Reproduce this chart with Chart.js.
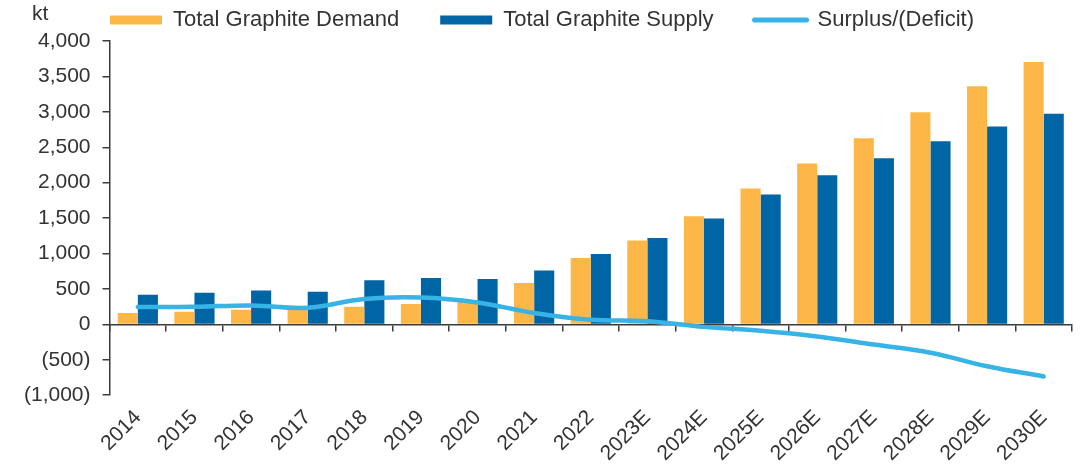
<!DOCTYPE html>
<html>
<head>
<meta charset="utf-8">
<script src="https://cdn.jsdelivr.net/npm/chart.js@4/dist/chart.umd.min.js"></script>
<style>
  body { margin: 0; background: #fff; }
</style>
</head>
<body>
<canvas id="graphiteChart" width="1084" height="466"></canvas>
<script>
// dữ liệu (kt)
const years = ["2014", "2015", "2016", "2017", "2018", "2019", "2020", "2021", "2022",
  "2023E", "2024E", "2025E", "2026E", "2027E", "2028E", "2029E", "2030E"];
const demand = [160, 180, 205, 210, 250, 287, 320, 584, 937, 1183, 1526, 1917, 2271, 2628, 2996, 3363, 3702];
const supply = [420, 445, 480, 460, 622, 654, 640, 759, 993, 1219, 1494, 1833, 2105, 2346, 2586, 2794, 2972];
const surplus = [245, 248, 268, 235, 360, 380, 310, 160, 65, 45, -35, -90, -170, -285, -400, -590, -735];
const yTicks = { min: -1000, max: 4000, step: 500 };

const textColor = "#333333";
const axisColor = "#3a3a3a";
const fontFamily = "'Liberation Sans', Arial, sans-serif";
const font = { family: fontFamily, size: 21 };
const legendFont = { family: fontFamily, size: 22 };

// số âm hiển thị trong ngoặc
const formatNum = (v) => {
  const s = Math.abs(v).toLocaleString("en-US");
  return v < 0 ? "(" + s + ")" : s;
};

// vẽ chữ "kt" phía trên trục y
const unitLabel = {
  id: "unitLabel",
  afterDraw(chart) {
    const ctx = chart.ctx;
    ctx.save();
    ctx.font = `${font.size}px ${font.family}`;
    ctx.fillStyle = textColor;
    ctx.textBaseline = "middle";
    ctx.fillText("kt", 32, 14);
    ctx.restore();
  },
};

const ctx = document.getElementById("graphiteChart").getContext("2d");
window.graphiteChart = new Chart(ctx, {
  type: "bar",
  data: {
    labels: years,
    datasets: [
      {
        label: "Total Graphite Demand",
        data: demand,
        backgroundColor: "#FDB748",
        categoryPercentage: 0.71,
        barPercentage: 1.0,
        order: 1,
      },
      {
        label: "Total Graphite Supply",
        data: supply,
        backgroundColor: "#0065A5",
        categoryPercentage: 0.71,
        barPercentage: 1.0,
        order: 1,
      },
      {
        type: "line",
        label: "Surplus/(Deficit)",
        data: surplus,
        borderColor: "#38B3E6",
        backgroundColor: "#38B3E6",
        borderWidth: 4.5,
        tension: 0.4,
        pointRadius: 0,
        borderCapStyle: "round",
        order: 0,
      },
    ],
  },
  options: {
    responsive: false,
    devicePixelRatio: 1,
    animation: false,
    // legend padding lớn để giãn ngang, bù lại bằng padding âm
    layout: { padding: { left: 12, right: 12, top: -32, bottom: -2 } },
    plugins: {
      tooltip: { enabled: false },
      legend: {
        position: "top",
        labels: {
          color: textColor,
          font: legendFont,
          usePointStyle: true,
          pointStyleWidth: 52,
          boxHeight: 9,
          padding: 41,
          generateLabels: (chart) =>
            chart.data.datasets.map((ds, i) => ({
              text: ds.label,
              fillStyle: ds.backgroundColor,
              strokeStyle: ds.borderColor || ds.backgroundColor,
              lineWidth: ds.type === "line" ? 5 : 0,
              lineCap: "round",
              pointStyle: ds.type === "line" ? "line" : "rect",
              fontColor: textColor,
              datasetIndex: i,
              hidden: false,
            })),
        },
      },
    },
    scales: {
      x: {
        position: "bottom",
        grid: { display: false },
        border: { display: false },
        ticks: {
          color: textColor,
          font: font,
          minRotation: 45,
          maxRotation: 45,
          padding: 2,
        },
      },
      x2: {
        type: "category",
        labels: years,
        position: { y: 0 },
        offset: true,
        grid: {
          offset: true,
          drawOnChartArea: false,
          drawTicks: true,
          tickLength: 6,
          color: axisColor,
          lineWidth: 1.5,
        },
        border: { display: true, color: axisColor, width: 1.5 },
        ticks: { display: false },
      },
      y: {
        min: yTicks.min,
        max: yTicks.max,
        grid: {
          drawOnChartArea: false,
          drawTicks: true,
          tickLength: 7,
          color: axisColor,
          lineWidth: 1.5,
        },
        border: { display: true, color: axisColor, width: 1.5 },
        ticks: {
          stepSize: yTicks.step,
          color: textColor,
          font: font,
          padding: 12,
          callback: (value) => formatNum(value),
        },
      },
    },
  },
  plugins: [unitLabel],
});
</script>
</body>
</html>
